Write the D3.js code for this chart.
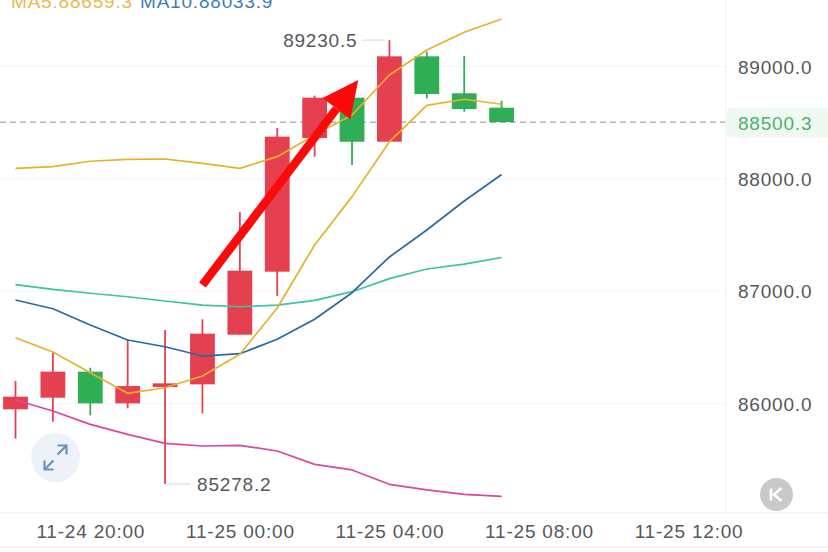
<!DOCTYPE html>
<html><head><meta charset="utf-8">
<script src="https://cdn.jsdelivr.net/npm/d3@7"></script>
<style>
html,body{margin:0;padding:0;background:#fff}
svg{display:block}
text{font-family:"Liberation Sans",Arial,sans-serif}
</style></head><body><svg id="c" width="828" height="552"></svg>
<script>
const hours = ["2024-11-24T18:00","2024-11-24T19:00","2024-11-24T20:00","2024-11-24T21:00","2024-11-24T22:00","2024-11-24T23:00","2024-11-25T00:00","2024-11-25T01:00","2024-11-25T02:00","2024-11-25T03:00","2024-11-25T04:00","2024-11-25T05:00","2024-11-25T06:00","2024-11-25T07:00"];
const opens  = [85944,86047,86279,85997,86142,86166,86608,87169,88359,88718,88326,89086,88757,88629];
const closes = [86056,86279,85997,86151,86175,86617,87178,88371,88718,88326,89086,88751,88617,88500.3];
const highs  = [86196,86448,86314,86567,86650,86745,87700,88448,88736,88718,89230.5,89127,89089,88691];
const lows   = [85682,85834,85890,85953,85278.2,85908,86608,86953,88193,88119,88326,88712,88593,88500.3];
const ma5    = [86581,86454,86270,86086,86136,86240,86434,86846,87407,87837,88326,88650,88704,88659.3];
const maUpper= [88089,88104,88152,88169,88172,88134,88089,88193,88386,88564,88920,89142,89300,89418];
const ma10   = [86917,86839,86694,86561,86501,86418,86439,86567,86745,86982,87300,87540,87798,88033.9];
const maTeal = [87053,87012,86977,86946,86908,86872,86857,86872,86914,86991,87107,87193,87237,87295];
const maPink = [86027,85929,85810,85721,85641,85617,85623,85573,85454,85404,85276,85226,85187,85169];
const yTicks = [86000,87000,88000,89000];
const xTicks = ["2024-11-24T20:00","2024-11-25T00:00","2024-11-25T04:00","2024-11-25T08:00","2024-11-25T12:00"];
const lastPrice = 88500.3, maxPrice = 89230.5, minPrice = 85278.2;
const arrowFrom = {t:"2024-11-24T23:00", v:87050}, arrowTo = {t:"2024-11-25T03:10", v:88875};

const C = {red:"#e5404f",green:"#2fae55",gold:"#e9b02a",blue:"#2a6a9e",teal:"#3cc3a0",pink:"#d9479f",grid:"#f5f6f8",text:"#55585c"};
const parse = d3.timeParse("%Y-%m-%dT%H:%M");
const svg = d3.select("#c");
const x = d3.scaleTime().domain([parse(hours[0]),parse(hours[13])]).range([15.5,501.6]);
const y = d3.scaleLinear().domain([86000,89000]).range([403,66]);
const T = hours.map(parse);
const font = 19, ls = .8;

// grid
svg.append("g").attr("transform","translate(725,0)")
  .call(d3.axisRight(y).tickValues(yTicks).tickSize(0).tickPadding(13).tickFormat(d3.format(".1f")))
  .call(g=>{g.select(".domain").remove();
    g.selectAll("line").attr("x1",-725).attr("x2",0).attr("stroke",C.grid);
    g.selectAll("text").attr("fill",C.text).attr("font-size",font).attr("font-family","Liberation Sans").attr("letter-spacing",ls).attr("dy","0.38em");});
svg.append("line").attr("x1",725.5).attr("x2",725.5).attr("y1",0).attr("y2",513).attr("stroke","#f1f2f5");
svg.append("line").attr("x1",0).attr("x2",828).attr("y1",513).attr("y2",513).attr("stroke","#f1f2f5").attr("stroke-width",1.5);
svg.append("line").attr("x1",0).attr("x2",828).attr("y1",547).attr("y2",547).attr("stroke","#f1f2f5").attr("stroke-width",1.5);

// x axis
svg.append("g").attr("transform","translate(0,524)")
  .call(d3.axisBottom(x).tickValues(xTicks.map(parse)).tickSize(0).tickPadding(0).tickFormat(d3.timeFormat("%m-%d %H:%M")))
  .call(g=>{g.select(".domain").remove();
    g.selectAll("text").attr("fill",C.text).attr("font-size",font).attr("font-family","Liberation Sans").attr("letter-spacing",ls).attr("dy","0.72em").attr("y",0);});

// last price line
svg.append("line").attr("x1",0).attr("x2",725).attr("y1",y(lastPrice)).attr("y2",y(lastPrice))
  .attr("stroke","#8c8c8c").attr("stroke-dasharray","6 4");

// candles
const idx = d3.range(T.length);
const col = i=>closes[i]>=opens[i]?C.red:C.green;
const bw = 24.8;
svg.append("g").selectAll("line").data(idx).join("line")
  .attr("x1",i=>x(T[i])).attr("x2",i=>x(T[i])).attr("y1",i=>y(highs[i])).attr("y2",i=>y(lows[i]))
  .attr("stroke",col).attr("stroke-width",1.8);
svg.append("g").selectAll("rect").data(idx).join("rect")
  .attr("x",i=>x(T[i])-bw/2).attr("width",bw)
  .attr("y",i=>y(Math.max(opens[i],closes[i]))).attr("height",i=>Math.abs(y(opens[i])-y(closes[i])))
  .attr("fill",col);

// MA lines
const line = d3.line().x((d,i)=>x(T[i])).y(d=>y(d));
[[maPink,C.pink],[maTeal,C.teal],[ma10,C.blue],[maUpper,C.gold],[ma5,C.gold]].forEach(([s,c])=>{
  svg.append("path").attr("d",line(s)).attr("fill","none").attr("stroke",c).attr("stroke-width",1.7).attr("stroke-linejoin","round");
});

// arrow
(function(){
  const x0=x(parse(arrowFrom.t)),y0=y(arrowFrom.v),x1=x(parse(arrowTo.t)),y1=y(arrowTo.v);
  const a=Math.atan2(y1-y0,x1-x0),L=36,W=17.5,ux=Math.cos(a),uy=Math.sin(a);
  const bx=x1-ux*L,by=y1-uy*L;
  svg.append("line").attr("x1",x0).attr("y1",y0).attr("x2",bx).attr("y2",by).attr("stroke","#fb0a0a").attr("stroke-width",8.5);
  svg.append("polygon").attr("fill","#fb0a0a")
    .attr("points",[[x1,y1],[bx-uy*W,by+ux*W],[bx+uy*W,by-ux*W]].map(p=>p.join(",")).join(" "));
})();

// high / low labels
const hiI = highs.indexOf(maxPrice), loI = lows.indexOf(minPrice);
svg.append("line").attr("x1",x(T[hiI])-27).attr("x2",x(T[hiI])-4).attr("y1",y(maxPrice)).attr("y2",y(maxPrice)).attr("stroke","#d5d6d8");
svg.append("text").attr("x",x(T[hiI])-32).attr("y",y(maxPrice)).attr("dy","0.36em").attr("text-anchor","end")
  .attr("fill",C.text).attr("font-size",font).attr("letter-spacing",ls).text(d3.format(".1f")(maxPrice));
svg.append("line").attr("x1",x(T[loI])+2).attr("x2",x(T[loI])+26).attr("y1",y(minPrice)).attr("y2",y(minPrice)).attr("stroke","#d5d6d8");
svg.append("text").attr("x",x(T[loI])+32).attr("y",y(minPrice)).attr("dy","0.36em")
  .attr("fill",C.text).attr("font-size",font).attr("letter-spacing",ls).text(d3.format(".1f")(minPrice));

// price tag
svg.append("path").attr("d","M828,108H733a8,8 0 0 0 -8,8V130a8,8 0 0 0 8,8H828Z").attr("fill","#eff8f1");
svg.append("text").attr("x",738).attr("y",y(lastPrice)+1).attr("dy","0.36em").attr("fill","#52ad77")
  .attr("font-size",font).attr("letter-spacing",ls).text(d3.format(".1f")(lastPrice));

// legend (clipped by the top of the picture)
svg.append("text").attr("x",11).attr("y",8).attr("fill","#e7b955").attr("font-size",font).attr("letter-spacing",ls).text("MA5:"+d3.format(".1f")(ma5[13]));
svg.append("text").attr("x",140).attr("y",8).attr("fill","#3f7fb3").attr("font-size",font).attr("letter-spacing",ls).text("MA10:"+d3.format(".1f")(ma10[13]));

// expand button
const e = svg.append("g").attr("transform","translate(55.5,457.5)");
e.append("circle").attr("r",24.5).attr("fill","#edf2f9");
e.append("path").attr("d","M-11,12 L-2,3 M-11,3 V12 H-2 M11,-12 L2,-3 M2,-12 H11 V-3").attr("fill","none").attr("stroke","#6f90bb").attr("stroke-width",2.2);

// K button
const k = svg.append("g").attr("transform","translate(776.5,494.5)");
k.append("circle").attr("r",16.5).attr("fill","#c9c9c9");
k.append("path").attr("d","M-5.5,-6 V6 M5,-6.5 L-2.5,0 L5,6.5").attr("fill","none").attr("stroke","#fff").attr("stroke-width",2.6);
</script></body></html>
